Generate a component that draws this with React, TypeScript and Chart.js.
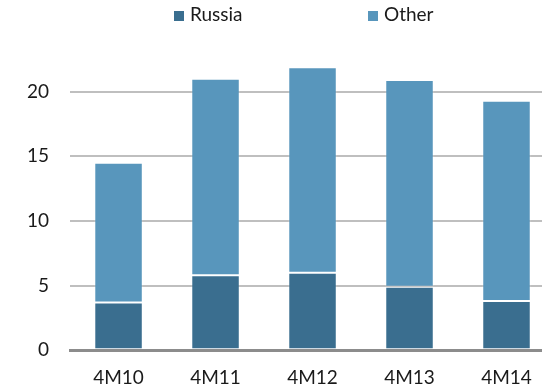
import React, { useEffect, useRef } from "react";
import { Chart, registerables } from "chart.js";

Chart.register(...registerables);

const categories = ["4M10", "4M11", "4M12", "4M13", "4M14"];
const russia = [3.7, 5.8, 6.0, 4.9, 3.8];
const other = [10.8, 15.2, 15.9, 16.0, 15.5];
const seriesNames = ["Russia", "Other"];
const yTicks = [0, 5, 10, 15, 20];

const FONT = "Lato, 'Open Sans', sans-serif";
const FONT_SIZE = 19;
const TEXT_COLOR = "#1a1a1a";
const CANVAS_W = 560;
const CANVAS_H = 405;

const legendPlugin = {
  id: "customLegend",
  afterDraw(chart: any) {
    const ctx = chart.ctx;
    const opts = chart.options.plugins.customLegend;
    ctx.save();
    ctx.font = `${FONT_SIZE}px ${FONT}`;
    ctx.textBaseline = "alphabetic";
    ctx.textAlign = "left";
    chart.data.datasets.forEach((ds: any, i: number) => {
      const x = opts.xs[i];
      ctx.fillStyle = ds.backgroundColor;
      ctx.fillRect(x, opts.boxTop, opts.boxSize, opts.boxSize);
      ctx.fillStyle = TEXT_COLOR;
      ctx.fillText(ds.label, x + opts.boxSize + opts.gap, opts.baseline);
    });
    ctx.restore();
  },
};

export default function App() {
  const ref = useRef<HTMLCanvasElement | null>(null);
  useEffect(() => {
    if (!ref.current) return;
    const chart = new Chart(ref.current, {
      type: "bar",
      data: {
        labels: categories,
        datasets: [
          {
            label: seriesNames[0],
            data: russia,
            backgroundColor: "#3a6e8f",
            borderColor: "rgba(255,255,255,0.2)",
            borderWidth: 1,
            borderSkipped: false,
            categoryPercentage: 1,
            barPercentage: 0.5,
          },
          {
            label: seriesNames[1],
            data: other,
            backgroundColor: "#5896bc",
            borderColor: "rgba(255,255,255,0.2)",
            borderWidth: 1,
            borderSkipped: false,
            categoryPercentage: 1,
            barPercentage: 0.5,
          },
        ],
      },
      plugins: [legendPlugin],
      options: {
        animation: false,
        responsive: false,
        maintainAspectRatio: false,
        layout: { padding: { top: 40, left: 6, right: 5, bottom: 0 } },
        plugins: {
          legend: { display: false },
          tooltip: { enabled: false },
          customLegend: { xs: [174, 368], boxTop: 11, boxSize: 10, gap: 6, baseline: 21 },
        } as any,
        scales: {
          x: {
            stacked: true,
            grid: { display: false, drawTicks: false },
            border: { display: true, color: "#8c8c8c", width: 3 },
            ticks: { color: TEXT_COLOR, font: { family: FONT, size: FONT_SIZE }, padding: 16 },
          },
          y: {
            stacked: true,
            min: 0,
            max: 24,
            afterBuildTicks: (axis: any) => {
              axis.ticks = yTicks.map((v) => ({ value: v }));
            },
            grid: {
              color: (c: any) => (c.tick && c.tick.value === 0 ? "rgba(0,0,0,0)" : "#bfbfbf"),
              lineWidth: 2,
              drawTicks: false,
            },
            border: { display: false },
            ticks: { color: TEXT_COLOR, font: { family: FONT, size: FONT_SIZE }, padding: 21 },
          },
        },
      },
    });
    return () => chart.destroy();
  }, []);
  return (
    <div style={{ position: "fixed", left: 0, top: 0, width: CANVAS_W, height: CANVAS_H }}>
      <canvas ref={ref} width={CANVAS_W} height={CANVAS_H} style={{ width: CANVAS_W, height: CANVAS_H }} />
    </div>
  );
}
